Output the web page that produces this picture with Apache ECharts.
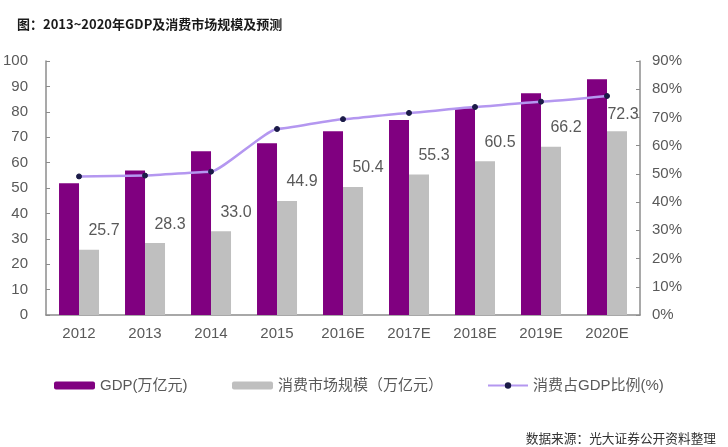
<!DOCTYPE html>
<html>
<head>
<meta charset="utf-8">
<script src="https://cdn.jsdelivr.net/npm/echarts@6/dist/echarts.min.js"></script>
<style>html,body{margin:0;padding:0;background:#fff;}#c{width:728px;height:447px;}</style>
</head>
<body>
<div id="c"></div>
<script>
var categories = ['2012','2013','2014','2015','2016E','2017E','2018E','2019E','2020E'];
var gdp = [51.9, 56.9, 64.5, 67.6, 72.3, 76.8, 81.4, 87.3, 92.8];
var consumption = [25.7, 28.3, 33.0, 44.9, 50.4, 55.3, 60.5, 66.2, 72.3];
var ratio = [49.1, 49.4, 50.8, 65.9, 69.4, 71.6, 73.7, 75.6, 77.6];
var leftTicks = {min: 0, max: 100, interval: 10};
var rightTicks = {min: 0, max: 90, interval: 10};

var FONT = '"Liberation Sans", "Noto Sans CJK SC", sans-serif';
var TXT = '#595959';
var AX = '#8c8c8c';

var consData = consumption.map(function (v, i) {
  var d = {value: v};
  if (i === consumption.length - 1) d.label = {offset: [6, -4]};
  return d;
});

var chart = echarts.init(document.getElementById('c'));
chart.setOption({
  animation: false,
  backgroundColor: '#fff',
  title: [{
    text: '图：2013~2020年GDP及消费市场规模及预测',
    left: 12, top: 13,
    textStyle: {fontSize: 13, fontWeight: 'bold', color: '#1a1a1a', fontFamily: '"Noto Sans CJK SC", sans-serif'}
  }, {
    text: '数据来源：光大证券公开资料整理',
    right: 7, top: 427,
    textStyle: {fontSize: 12.7, fontWeight: 'normal', color: '#333', fontFamily: '"Noto Sans CJK SC", sans-serif'}
  }],
  legend: [{
    data: ['GDP(万亿元)'], left: 49, top: 373, itemWidth: 41, itemHeight: 8,
    textStyle: {fontSize: 15, color: TXT, fontFamily: FONT}
  }, {
    data: ['消费市场规模（万亿元）'], left: 227, top: 373, itemWidth: 41, itemHeight: 8,
    textStyle: {fontSize: 15, color: TXT, fontFamily: FONT}
  }, {
    data: ['消费占GDP比例(%)'], left: 482, top: 373, itemWidth: 40, itemHeight: 8,
    textStyle: {fontSize: 15, color: TXT, fontFamily: FONT}
  }],
  grid: {left: 42, right: 88, top: 61, bottom: 132},
  xAxis: {
    type: 'category', data: categories,
    axisLine: {lineStyle: {color: AX, width: 1.5}},
    axisTick: {inside: true, length: 5, lineStyle: {color: AX}},
    axisLabel: {fontSize: 15, color: TXT, fontFamily: FONT, margin: 11}
  },
  yAxis: [{
    type: 'value', min: leftTicks.min, max: leftTicks.max, interval: leftTicks.interval,
    axisLine: {show: true, lineStyle: {color: AX, width: 1.5}},
    axisTick: {show: true, inside: true, length: 4, lineStyle: {color: AX}},
    splitLine: {show: false},
    axisLabel: {fontSize: 15, color: TXT, fontFamily: FONT, margin: 18}
  }, {
    type: 'value', min: rightTicks.min, max: rightTicks.max, interval: rightTicks.interval,
    axisLine: {show: true, lineStyle: {color: AX, width: 1.5}},
    axisTick: {show: true, inside: true, length: 4, lineStyle: {color: AX}},
    splitLine: {show: false},
    axisLabel: {fontSize: 15, color: TXT, fontFamily: FONT, margin: 12, formatter: '{value}%'}
  }],
  series: [{
    name: 'GDP(万亿元)', type: 'bar', data: gdp, barWidth: 20, barGap: '0%',
    itemStyle: {color: '#800080'}
  }, {
    name: '消费市场规模（万亿元）', type: 'bar', data: consData, barWidth: 20,
    itemStyle: {color: '#bfbfbf'},
    label: {show: true, position: 'top', distance: 5, offset: [15, -6], fontSize: 16, color: TXT, fontFamily: FONT,
      formatter: function (p) { return p.value.toFixed(1); }}
  }, {
    name: '消费占GDP比例(%)', type: 'line', yAxisIndex: 1, data: ratio, smooth: 0.15, smoothMonotone: 'x',
    lineStyle: {color: '#b497f0', width: 2.5},
    itemStyle: {color: '#1b1b48', borderColor: '#1b1b48'},
    symbol: 'circle', symbolSize: 5, z: 5
  }]
});
</script>
</body>
</html>
